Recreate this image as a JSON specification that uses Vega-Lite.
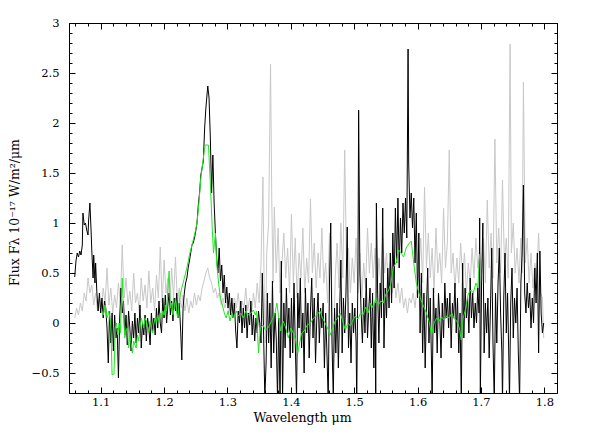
{
"$schema": "https://vega.github.io/schema/vega-lite/v6.json",
"width": 488, "height": 370,
"autosize": "none",
"padding": {"left": 69, "top": 23, "right": 35, "bottom": 50},
"background": "white",
"config": {"view": {"stroke": "black", "strokeWidth": 1},
 "axis": {"labelFont": "DejaVu Serif", "titleFont": "DejaVu Serif", "labelFontSize": 11.5, "titleFontSize": 12.5, "labelColor": "black", "titleColor": "black", "titleFontWeight": "normal", "domainColor": "black", "tickColor": "black", "grid": false, "labelOverlap": false, "labelFlush": false}},
"datasets": {
"gray": [
{"x":1.059,"y":0.05},{"x":1.062,"y":0.15},{"x":1.065,"y":0.08},{"x":1.068,"y":0.20},{"x":1.071,"y":0.12},{"x":1.074,"y":0.30},{"x":1.077,"y":0.22},{"x":1.080,"y":0.45},{"x":1.083,"y":0.30},{"x":1.086,"y":0.38},{"x":1.089,"y":0.18},{"x":1.092,"y":0.30},{"x":1.095,"y":0.12},{"x":1.098,"y":0.25},{"x":1.101,"y":0.15},{"x":1.104,"y":0.35},{"x":1.107,"y":0.20},{"x":1.110,"y":0.55},{"x":1.113,"y":0.18},{"x":1.116,"y":0.35},{"x":1.119,"y":0.10},{"x":1.122,"y":0.28},{"x":1.125,"y":0.15},{"x":1.128,"y":0.40},{"x":1.131,"y":0.20},{"x":1.134,"y":0.78},{"x":1.137,"y":0.25},{"x":1.140,"y":0.45},{"x":1.143,"y":0.18},{"x":1.146,"y":0.32},{"x":1.149,"y":0.12},{"x":1.152,"y":0.50},{"x":1.155,"y":0.20},{"x":1.158,"y":0.30},{"x":1.161,"y":0.10},{"x":1.164,"y":0.45},{"x":1.167,"y":0.22},{"x":1.170,"y":0.38},{"x":1.173,"y":0.15},{"x":1.176,"y":0.52},{"x":1.179,"y":0.20},{"x":1.182,"y":0.35},{"x":1.185,"y":0.12},{"x":1.188,"y":0.48},{"x":1.191,"y":0.25},{"x":1.194,"y":0.76},{"x":1.197,"y":0.20},{"x":1.200,"y":0.63},{"x":1.203,"y":0.30},{"x":1.206,"y":0.45},{"x":1.209,"y":0.18},{"x":1.212,"y":0.55},{"x":1.215,"y":0.25},{"x":1.218,"y":0.66},{"x":1.221,"y":0.20},{"x":1.224,"y":0.35},{"x":1.227,"y":0.15},{"x":1.230,"y":0.28},{"x":1.233,"y":0.12},{"x":1.236,"y":0.25},{"x":1.239,"y":0.10},{"x":1.242,"y":0.22},{"x":1.245,"y":0.15},{"x":1.248,"y":0.30},{"x":1.251,"y":0.18},{"x":1.254,"y":0.28},{"x":1.257,"y":0.22},{"x":1.260,"y":0.35},{"x":1.263,"y":0.42},{"x":1.266,"y":0.50},{"x":1.269,"y":0.55},{"x":1.272,"y":0.45},{"x":1.275,"y":0.40},{"x":1.278,"y":0.30},{"x":1.281,"y":0.35},{"x":1.284,"y":0.25},{"x":1.287,"y":0.30},{"x":1.290,"y":0.18},{"x":1.293,"y":0.25},{"x":1.296,"y":0.15},{"x":1.299,"y":0.22},{"x":1.302,"y":0.10},{"x":1.305,"y":0.20},{"x":1.308,"y":0.12},{"x":1.311,"y":0.25},{"x":1.314,"y":0.15},{"x":1.317,"y":0.30},{"x":1.320,"y":0.10},{"x":1.323,"y":0.22},{"x":1.326,"y":0.15},{"x":1.329,"y":0.35},{"x":1.332,"y":0.12},{"x":1.335,"y":0.25},{"x":1.338,"y":0.08},{"x":1.341,"y":0.30},{"x":1.344,"y":0.15},{"x":1.347,"y":0.40},{"x":1.350,"y":0.20},{"x":1.353,"y":0.60},{"x":1.356,"y":1.46},{"x":1.358,"y":0.30},{"x":1.360,"y":-0.20},{"x":1.362,"y":0.70},{"x":1.365,"y":1.00},{"x":1.368,"y":2.59},{"x":1.370,"y":1.20},{"x":1.372,"y":0.40},{"x":1.374,"y":1.16},{"x":1.377,"y":0.50},{"x":1.380,"y":0.95},{"x":1.383,"y":0.30},{"x":1.386,"y":0.60},{"x":1.389,"y":0.90},{"x":1.392,"y":0.45},{"x":1.395,"y":0.75},{"x":1.398,"y":0.30},{"x":1.401,"y":1.09},{"x":1.404,"y":0.40},{"x":1.407,"y":0.85},{"x":1.410,"y":0.25},{"x":1.413,"y":0.70},{"x":1.416,"y":0.45},{"x":1.419,"y":0.95},{"x":1.422,"y":0.30},{"x":1.425,"y":0.65},{"x":1.428,"y":0.40},{"x":1.431,"y":1.24},{"x":1.434,"y":0.50},{"x":1.437,"y":0.80},{"x":1.440,"y":0.35},{"x":1.443,"y":0.70},{"x":1.446,"y":0.45},{"x":1.449,"y":0.95},{"x":1.452,"y":0.40},{"x":1.455,"y":0.60},{"x":1.458,"y":0.20},{"x":1.461,"y":0.90},{"x":1.464,"y":0.50},{"x":1.467,"y":-0.40},{"x":1.470,"y":0.45},{"x":1.473,"y":0.80},{"x":1.476,"y":0.35},{"x":1.479,"y":1.00},{"x":1.482,"y":0.45},{"x":1.485,"y":1.73},{"x":1.488,"y":0.55},{"x":1.491,"y":0.75},{"x":1.494,"y":0.30},{"x":1.497,"y":0.65},{"x":1.500,"y":0.40},{"x":1.503,"y":0.85},{"x":1.506,"y":0.30},{"x":1.509,"y":0.70},{"x":1.512,"y":0.25},{"x":1.515,"y":0.60},{"x":1.518,"y":0.35},{"x":1.521,"y":0.95},{"x":1.524,"y":0.50},{"x":1.527,"y":0.80},{"x":1.530,"y":0.45},{"x":1.533,"y":0.75},{"x":1.536,"y":0.30},{"x":1.539,"y":0.65},{"x":1.542,"y":0.40},{"x":1.545,"y":0.85},{"x":1.548,"y":0.50},{"x":1.551,"y":0.70},{"x":1.554,"y":0.35},{"x":1.557,"y":0.60},{"x":1.560,"y":0.30},{"x":1.563,"y":0.45},{"x":1.566,"y":0.25},{"x":1.569,"y":0.40},{"x":1.572,"y":0.20},{"x":1.575,"y":0.35},{"x":1.578,"y":0.15},{"x":1.581,"y":0.25},{"x":1.584,"y":0.10},{"x":1.587,"y":0.25},{"x":1.590,"y":0.20},{"x":1.593,"y":0.30},{"x":1.596,"y":0.15},{"x":1.599,"y":0.35},{"x":1.602,"y":0.50},{"x":1.605,"y":0.85},{"x":1.608,"y":0.40},{"x":1.611,"y":1.36},{"x":1.614,"y":0.55},{"x":1.617,"y":0.90},{"x":1.620,"y":0.45},{"x":1.623,"y":0.75},{"x":1.626,"y":0.30},{"x":1.629,"y":0.95},{"x":1.632,"y":0.50},{"x":1.635,"y":0.70},{"x":1.638,"y":0.40},{"x":1.641,"y":1.15},{"x":1.644,"y":0.55},{"x":1.647,"y":0.80},{"x":1.650,"y":1.73},{"x":1.653,"y":0.50},{"x":1.656,"y":0.70},{"x":1.659,"y":0.35},{"x":1.662,"y":0.65},{"x":1.665,"y":0.40},{"x":1.668,"y":0.80},{"x":1.671,"y":0.45},{"x":1.674,"y":0.70},{"x":1.677,"y":0.30},{"x":1.680,"y":0.60},{"x":1.683,"y":0.40},{"x":1.686,"y":0.75},{"x":1.689,"y":0.45},{"x":1.692,"y":0.85},{"x":1.695,"y":0.55},{"x":1.698,"y":0.70},{"x":1.701,"y":0.50},{"x":1.704,"y":0.85},{"x":1.707,"y":0.40},{"x":1.710,"y":1.23},{"x":1.713,"y":0.55},{"x":1.716,"y":0.90},{"x":1.719,"y":0.45},{"x":1.722,"y":1.84},{"x":1.725,"y":0.60},{"x":1.728,"y":0.95},{"x":1.731,"y":0.50},{"x":1.734,"y":1.43},{"x":1.737,"y":0.60},{"x":1.740,"y":0.85},{"x":1.743,"y":0.45},{"x":1.746,"y":2.79},{"x":1.748,"y":0.70},{"x":1.751,"y":1.00},{"x":1.754,"y":0.50},{"x":1.757,"y":0.75},{"x":1.760,"y":0.40},{"x":1.763,"y":0.85},{"x":1.765,"y":0.50},{"x":1.767,"y":2.41},{"x":1.770,"y":0.60},{"x":1.773,"y":0.85},{"x":1.776,"y":0.40},{"x":1.779,"y":0.70},{"x":1.782,"y":0.35},{"x":1.785,"y":0.60},{"x":1.788,"y":0.45},{"x":1.791,"y":0.90},{"x":1.794,"y":0.30},{"x":1.797,"y":0.25},{"x":1.799,"y":-0.15}
],
"black": [
{"x":1.059,"y":0.46},{"x":1.061,"y":0.62},{"x":1.063,"y":0.70},{"x":1.065,"y":0.66},{"x":1.067,"y":0.72},{"x":1.069,"y":0.68},{"x":1.071,"y":0.78},{"x":1.072,"y":1.10},{"x":1.074,"y":0.98},{"x":1.076,"y":1.00},{"x":1.078,"y":0.93},{"x":1.080,"y":0.88},{"x":1.081,"y":1.03},{"x":1.083,"y":1.20},{"x":1.085,"y":0.90},{"x":1.086,"y":0.72},{"x":1.088,"y":0.45},{"x":1.089,"y":0.68},{"x":1.091,"y":0.40},{"x":1.092,"y":0.60},{"x":1.094,"y":0.30},{"x":1.096,"y":0.12},{"x":1.098,"y":0.30},{"x":1.100,"y":0.10},{"x":1.102,"y":0.25},{"x":1.104,"y":0.05},{"x":1.106,"y":0.22},{"x":1.108,"y":0.15},{"x":1.110,"y":-0.05},{"x":1.112,"y":-0.40},{"x":1.114,"y":0.12},{"x":1.116,"y":-0.20},{"x":1.118,"y":0.10},{"x":1.120,"y":-0.28},{"x":1.122,"y":0.08},{"x":1.124,"y":-0.15},{"x":1.126,"y":-0.05},{"x":1.128,"y":-0.55},{"x":1.130,"y":0.05},{"x":1.132,"y":0.35},{"x":1.134,"y":0.10},{"x":1.136,"y":0.22},{"x":1.138,"y":-0.12},{"x":1.140,"y":0.08},{"x":1.142,"y":-0.22},{"x":1.144,"y":0.12},{"x":1.146,"y":-0.05},{"x":1.148,"y":-0.28},{"x":1.150,"y":0.02},{"x":1.152,"y":-0.15},{"x":1.154,"y":0.10},{"x":1.156,"y":-0.20},{"x":1.158,"y":0.05},{"x":1.160,"y":-0.10},{"x":1.162,"y":0.18},{"x":1.164,"y":-0.25},{"x":1.166,"y":0.00},{"x":1.168,"y":-0.12},{"x":1.170,"y":0.08},{"x":1.172,"y":-0.18},{"x":1.174,"y":0.05},{"x":1.176,"y":-0.05},{"x":1.178,"y":-0.22},{"x":1.180,"y":0.10},{"x":1.182,"y":-0.08},{"x":1.184,"y":0.05},{"x":1.186,"y":-0.12},{"x":1.188,"y":0.15},{"x":1.190,"y":-0.05},{"x":1.192,"y":0.22},{"x":1.194,"y":0.00},{"x":1.196,"y":-0.10},{"x":1.198,"y":0.25},{"x":1.200,"y":0.05},{"x":1.202,"y":0.28},{"x":1.204,"y":0.00},{"x":1.206,"y":0.18},{"x":1.208,"y":0.30},{"x":1.210,"y":0.08},{"x":1.212,"y":0.22},{"x":1.214,"y":0.02},{"x":1.216,"y":0.25},{"x":1.218,"y":0.12},{"x":1.220,"y":0.30},{"x":1.222,"y":0.05},{"x":1.224,"y":0.20},{"x":1.226,"y":-0.05},{"x":1.228,"y":-0.37},{"x":1.230,"y":0.15},{"x":1.232,"y":0.30},{"x":1.234,"y":0.40},{"x":1.236,"y":0.45},{"x":1.238,"y":0.55},{"x":1.240,"y":0.62},{"x":1.242,"y":0.70},{"x":1.244,"y":0.78},{"x":1.246,"y":0.80},{"x":1.248,"y":0.85},{"x":1.250,"y":0.92},{"x":1.252,"y":1.00},{"x":1.254,"y":1.18},{"x":1.256,"y":1.30},{"x":1.258,"y":1.48},{"x":1.260,"y":1.55},{"x":1.262,"y":1.62},{"x":1.264,"y":1.95},{"x":1.266,"y":2.15},{"x":1.268,"y":2.30},{"x":1.269,"y":2.37},{"x":1.271,"y":2.25},{"x":1.273,"y":1.85},{"x":1.275,"y":1.30},{"x":1.277,"y":1.68},{"x":1.279,"y":1.20},{"x":1.281,"y":0.90},{"x":1.283,"y":0.65},{"x":1.285,"y":0.50},{"x":1.287,"y":0.75},{"x":1.289,"y":0.42},{"x":1.291,"y":0.58},{"x":1.293,"y":0.30},{"x":1.295,"y":0.48},{"x":1.297,"y":0.20},{"x":1.299,"y":0.36},{"x":1.301,"y":0.15},{"x":1.303,"y":0.30},{"x":1.305,"y":0.08},{"x":1.307,"y":0.25},{"x":1.309,"y":0.05},{"x":1.311,"y":0.20},{"x":1.313,"y":-0.08},{"x":1.315,"y":-0.25},{"x":1.317,"y":0.12},{"x":1.319,"y":0.00},{"x":1.321,"y":0.22},{"x":1.323,"y":-0.10},{"x":1.325,"y":0.15},{"x":1.327,"y":-0.05},{"x":1.329,"y":0.18},{"x":1.331,"y":-0.15},{"x":1.333,"y":0.10},{"x":1.335,"y":-0.02},{"x":1.337,"y":0.22},{"x":1.339,"y":-0.12},{"x":1.341,"y":0.08},{"x":1.343,"y":-0.18},{"x":1.345,"y":0.05},{"x":1.347,"y":-0.10},{"x":1.349,"y":0.12},{"x":1.351,"y":0.00},{"x":1.353,"y":-0.20},{"x":1.355,"y":0.50},{"x":1.357,"y":-0.10},{"x":1.359,"y":-0.75},{"x":1.361,"y":-0.40},{"x":1.363,"y":0.30},{"x":1.365,"y":-0.20},{"x":1.367,"y":0.20},{"x":1.369,"y":-0.45},{"x":1.371,"y":0.42},{"x":1.373,"y":-0.30},{"x":1.375,"y":0.10},{"x":1.377,"y":-0.15},{"x":1.379,"y":-0.75},{"x":1.381,"y":0.05},{"x":1.383,"y":-0.78},{"x":1.385,"y":0.62},{"x":1.387,"y":-0.75},{"x":1.389,"y":0.20},{"x":1.391,"y":-0.25},{"x":1.393,"y":0.35},{"x":1.395,"y":-0.10},{"x":1.397,"y":0.15},{"x":1.399,"y":-0.35},{"x":1.401,"y":0.25},{"x":1.403,"y":-0.30},{"x":1.405,"y":0.40},{"x":1.407,"y":-0.20},{"x":1.409,"y":-0.75},{"x":1.411,"y":0.30},{"x":1.413,"y":-0.05},{"x":1.415,"y":0.45},{"x":1.417,"y":-0.25},{"x":1.419,"y":0.10},{"x":1.421,"y":-0.50},{"x":1.423,"y":0.35},{"x":1.425,"y":-0.10},{"x":1.427,"y":0.20},{"x":1.429,"y":-0.35},{"x":1.431,"y":0.12},{"x":1.433,"y":0.45},{"x":1.435,"y":-0.15},{"x":1.437,"y":0.25},{"x":1.439,"y":-0.40},{"x":1.441,"y":0.05},{"x":1.443,"y":0.30},{"x":1.445,"y":-0.20},{"x":1.447,"y":0.15},{"x":1.449,"y":-0.05},{"x":1.451,"y":0.20},{"x":1.453,"y":-0.45},{"x":1.455,"y":0.10},{"x":1.457,"y":-0.30},{"x":1.459,"y":-0.78},{"x":1.461,"y":0.40},{"x":1.463,"y":1.00},{"x":1.465,"y":-0.20},{"x":1.467,"y":-0.75},{"x":1.469,"y":0.15},{"x":1.471,"y":-0.30},{"x":1.473,"y":0.20},{"x":1.475,"y":-0.45},{"x":1.477,"y":0.10},{"x":1.479,"y":0.63},{"x":1.481,"y":-0.30},{"x":1.483,"y":0.25},{"x":1.485,"y":-0.10},{"x":1.487,"y":0.30},{"x":1.489,"y":0.96},{"x":1.491,"y":-0.25},{"x":1.493,"y":0.10},{"x":1.495,"y":-0.40},{"x":1.497,"y":0.20},{"x":1.499,"y":-0.10},{"x":1.501,"y":0.15},{"x":1.503,"y":-0.20},{"x":1.504,"y":-0.78},{"x":1.506,"y":0.60},{"x":1.507,"y":2.13},{"x":1.509,"y":0.50},{"x":1.511,"y":0.10},{"x":1.513,"y":-0.20},{"x":1.515,"y":0.25},{"x":1.517,"y":-0.10},{"x":1.519,"y":0.45},{"x":1.521,"y":-0.15},{"x":1.523,"y":0.15},{"x":1.525,"y":0.35},{"x":1.527,"y":-0.25},{"x":1.529,"y":0.30},{"x":1.531,"y":-0.45},{"x":1.533,"y":0.20},{"x":1.534,"y":-0.78},{"x":1.535,"y":1.20},{"x":1.537,"y":0.30},{"x":1.539,"y":-0.20},{"x":1.541,"y":0.40},{"x":1.543,"y":0.05},{"x":1.545,"y":1.15},{"x":1.547,"y":-0.25},{"x":1.549,"y":0.35},{"x":1.551,"y":0.05},{"x":1.553,"y":0.55},{"x":1.555,"y":0.15},{"x":1.557,"y":0.70},{"x":1.559,"y":0.20},{"x":1.561,"y":0.90},{"x":1.563,"y":0.35},{"x":1.565,"y":1.15},{"x":1.567,"y":0.60},{"x":1.569,"y":1.25},{"x":1.571,"y":0.55},{"x":1.573,"y":1.05},{"x":1.575,"y":0.70},{"x":1.577,"y":1.20},{"x":1.579,"y":0.90},{"x":1.581,"y":1.25},{"x":1.583,"y":0.85},{"x":1.585,"y":2.74},{"x":1.586,"y":1.60},{"x":1.588,"y":1.05},{"x":1.590,"y":1.30},{"x":1.592,"y":0.95},{"x":1.594,"y":1.25},{"x":1.596,"y":0.60},{"x":1.598,"y":1.10},{"x":1.600,"y":0.25},{"x":1.602,"y":0.90},{"x":1.604,"y":-0.10},{"x":1.606,"y":0.50},{"x":1.608,"y":-0.30},{"x":1.610,"y":0.30},{"x":1.612,"y":-0.45},{"x":1.614,"y":0.15},{"x":1.616,"y":0.55},{"x":1.618,"y":-0.20},{"x":1.620,"y":0.25},{"x":1.622,"y":-0.40},{"x":1.623,"y":-0.78},{"x":1.625,"y":0.35},{"x":1.627,"y":-0.10},{"x":1.629,"y":0.15},{"x":1.631,"y":-0.30},{"x":1.633,"y":0.30},{"x":1.635,"y":0.05},{"x":1.637,"y":-0.35},{"x":1.639,"y":0.20},{"x":1.641,"y":-0.15},{"x":1.643,"y":0.40},{"x":1.645,"y":0.05},{"x":1.647,"y":0.25},{"x":1.649,"y":-0.05},{"x":1.651,"y":0.30},{"x":1.653,"y":-0.25},{"x":1.655,"y":0.20},{"x":1.657,"y":0.05},{"x":1.659,"y":0.40},{"x":1.661,"y":-0.10},{"x":1.663,"y":0.25},{"x":1.665,"y":-0.30},{"x":1.667,"y":0.10},{"x":1.669,"y":-0.78},{"x":1.671,"y":0.60},{"x":1.673,"y":-0.15},{"x":1.675,"y":0.35},{"x":1.677,"y":0.05},{"x":1.679,"y":0.25},{"x":1.681,"y":-0.10},{"x":1.683,"y":0.45},{"x":1.685,"y":0.05},{"x":1.687,"y":0.30},{"x":1.689,"y":-0.05},{"x":1.691,"y":0.20},{"x":1.693,"y":0.00},{"x":1.695,"y":0.35},{"x":1.697,"y":0.10},{"x":1.698,"y":1.05},{"x":1.699,"y":-0.78},{"x":1.701,"y":0.40},{"x":1.703,"y":1.00},{"x":1.705,"y":-0.30},{"x":1.707,"y":0.20},{"x":1.709,"y":-0.10},{"x":1.711,"y":0.25},{"x":1.713,"y":-0.35},{"x":1.715,"y":0.15},{"x":1.717,"y":0.75},{"x":1.719,"y":-0.20},{"x":1.721,"y":-0.78},{"x":1.723,"y":0.30},{"x":1.725,"y":-0.20},{"x":1.727,"y":0.40},{"x":1.729,"y":0.75},{"x":1.731,"y":0.10},{"x":1.733,"y":-0.30},{"x":1.734,"y":-0.78},{"x":1.736,"y":0.25},{"x":1.738,"y":0.70},{"x":1.740,"y":-0.10},{"x":1.742,"y":0.30},{"x":1.744,"y":-0.35},{"x":1.745,"y":-0.78},{"x":1.747,"y":0.20},{"x":1.749,"y":0.55},{"x":1.751,"y":-0.15},{"x":1.753,"y":0.25},{"x":1.755,"y":0.00},{"x":1.757,"y":0.35},{"x":1.759,"y":-0.30},{"x":1.761,"y":-0.78},{"x":1.763,"y":0.40},{"x":1.765,"y":0.70},{"x":1.767,"y":1.38},{"x":1.769,"y":0.30},{"x":1.771,"y":0.10},{"x":1.773,"y":0.40},{"x":1.775,"y":0.15},{"x":1.777,"y":0.30},{"x":1.779,"y":-0.05},{"x":1.781,"y":0.25},{"x":1.783,"y":0.00},{"x":1.785,"y":0.55},{"x":1.787,"y":0.20},{"x":1.789,"y":0.70},{"x":1.791,"y":-0.30},{"x":1.793,"y":0.72},{"x":1.795,"y":0.10},{"x":1.797,"y":-0.10},{"x":1.799,"y":0.00}
],
"green": [
{"x":1.101,"y":0.13},{"x":1.104,"y":0.08},{"x":1.107,"y":0.18},{"x":1.110,"y":0.05},{"x":1.113,"y":0.12},{"x":1.116,"y":-0.02},{"x":1.118,"y":-0.52},{"x":1.121,"y":-0.51},{"x":1.123,"y":-0.05},{"x":1.125,"y":0.00},{"x":1.127,"y":-0.12},{"x":1.129,"y":0.00},{"x":1.131,"y":-0.10},{"x":1.134,"y":0.45},{"x":1.136,"y":0.10},{"x":1.138,"y":-0.15},{"x":1.140,"y":-0.08},{"x":1.142,"y":-0.05},{"x":1.144,"y":-0.25},{"x":1.146,"y":-0.12},{"x":1.148,"y":-0.20},{"x":1.150,"y":-0.30},{"x":1.152,"y":-0.18},{"x":1.154,"y":-0.22},{"x":1.156,"y":-0.25},{"x":1.158,"y":-0.12},{"x":1.160,"y":-0.18},{"x":1.162,"y":-0.05},{"x":1.164,"y":0.05},{"x":1.166,"y":0.00},{"x":1.168,"y":-0.05},{"x":1.170,"y":0.05},{"x":1.172,"y":0.02},{"x":1.174,"y":-0.05},{"x":1.176,"y":-0.08},{"x":1.178,"y":0.02},{"x":1.180,"y":-0.05},{"x":1.182,"y":-0.10},{"x":1.184,"y":0.00},{"x":1.186,"y":0.05},{"x":1.188,"y":0.00},{"x":1.190,"y":0.08},{"x":1.192,"y":0.02},{"x":1.194,"y":0.10},{"x":1.196,"y":0.05},{"x":1.198,"y":0.12},{"x":1.200,"y":0.08},{"x":1.202,"y":0.18},{"x":1.204,"y":0.12},{"x":1.206,"y":0.35},{"x":1.208,"y":0.52},{"x":1.210,"y":0.15},{"x":1.212,"y":0.20},{"x":1.214,"y":0.08},{"x":1.216,"y":0.15},{"x":1.218,"y":0.25},{"x":1.220,"y":0.10},{"x":1.222,"y":0.05},{"x":1.224,"y":0.22},{"x":1.226,"y":0.30},{"x":1.228,"y":0.35},{"x":1.232,"y":0.45},{"x":1.236,"y":0.55},{"x":1.240,"y":0.68},{"x":1.244,"y":0.78},{"x":1.248,"y":0.88},{"x":1.252,"y":1.00},{"x":1.255,"y":1.20},{"x":1.258,"y":1.45},{"x":1.260,"y":1.55},{"x":1.263,"y":1.70},{"x":1.265,"y":1.78},{"x":1.270,"y":1.78},{"x":1.273,"y":1.40},{"x":1.276,"y":0.95},{"x":1.278,"y":0.70},{"x":1.281,"y":0.90},{"x":1.283,"y":0.60},{"x":1.286,"y":0.40},{"x":1.289,"y":0.25},{"x":1.292,"y":0.18},{"x":1.295,"y":0.10},{"x":1.298,"y":0.05},{"x":1.301,"y":0.12},{"x":1.304,"y":0.02},{"x":1.307,"y":0.10},{"x":1.310,"y":0.05},{"x":1.314,"y":0.12},{"x":1.317,"y":0.07},{"x":1.321,"y":0.10},{"x":1.325,"y":0.05},{"x":1.329,"y":0.12},{"x":1.333,"y":0.08},{"x":1.337,"y":0.10},{"x":1.341,"y":0.13},{"x":1.344,"y":0.08},{"x":1.346,"y":0.12},{"x":1.349,"y":-0.30},{"x":1.352,"y":-0.05},{"x":1.356,"y":-0.02},{"x":1.360,"y":-0.07},{"x":1.364,"y":-0.05},{"x":1.368,"y":0.00},{"x":1.372,"y":0.05},{"x":1.375,"y":0.10},{"x":1.378,"y":0.20},{"x":1.381,"y":0.05},{"x":1.384,"y":-0.08},{"x":1.388,"y":0.02},{"x":1.392,"y":-0.05},{"x":1.396,"y":-0.15},{"x":1.400,"y":-0.05},{"x":1.404,"y":-0.10},{"x":1.408,"y":-0.18},{"x":1.411,"y":-0.30},{"x":1.414,"y":-0.20},{"x":1.417,"y":-0.10},{"x":1.421,"y":-0.08},{"x":1.426,"y":-0.02},{"x":1.431,"y":0.00},{"x":1.436,"y":0.05},{"x":1.441,"y":0.08},{"x":1.446,"y":0.12},{"x":1.450,"y":0.05},{"x":1.454,"y":0.00},{"x":1.458,"y":-0.05},{"x":1.462,"y":-0.12},{"x":1.466,"y":-0.05},{"x":1.470,"y":0.02},{"x":1.474,"y":0.05},{"x":1.478,"y":0.10},{"x":1.482,"y":0.02},{"x":1.486,"y":-0.07},{"x":1.490,"y":0.00},{"x":1.494,"y":-0.03},{"x":1.498,"y":0.03},{"x":1.502,"y":0.07},{"x":1.506,"y":0.04},{"x":1.510,"y":0.10},{"x":1.514,"y":0.08},{"x":1.518,"y":0.16},{"x":1.522,"y":0.10},{"x":1.526,"y":0.20},{"x":1.530,"y":0.15},{"x":1.534,"y":0.25},{"x":1.538,"y":0.18},{"x":1.542,"y":0.22},{"x":1.546,"y":0.20},{"x":1.550,"y":0.29},{"x":1.554,"y":0.32},{"x":1.558,"y":0.40},{"x":1.562,"y":0.56},{"x":1.566,"y":0.60},{"x":1.570,"y":0.73},{"x":1.574,"y":0.70},{"x":1.578,"y":0.66},{"x":1.582,"y":0.75},{"x":1.586,"y":0.79},{"x":1.590,"y":0.82},{"x":1.594,"y":0.60},{"x":1.598,"y":0.40},{"x":1.602,"y":0.30},{"x":1.606,"y":0.22},{"x":1.610,"y":0.16},{"x":1.614,"y":0.10},{"x":1.618,"y":0.02},{"x":1.622,"y":-0.12},{"x":1.626,"y":0.00},{"x":1.630,"y":0.05},{"x":1.634,"y":0.02},{"x":1.638,"y":0.06},{"x":1.642,"y":0.03},{"x":1.646,"y":0.07},{"x":1.650,"y":0.05},{"x":1.654,"y":0.10},{"x":1.658,"y":0.04},{"x":1.662,"y":0.02},{"x":1.666,"y":-0.05},{"x":1.669,"y":-0.17},{"x":1.672,"y":0.05},{"x":1.676,"y":0.15},{"x":1.680,"y":0.29},{"x":1.684,"y":0.33},{"x":1.688,"y":0.30},{"x":1.692,"y":0.40},{"x":1.695,"y":0.35},{"x":1.698,"y":0.69}
]
},
"layer": [
{"data": {"name": "gray"},
 "mark": {"type": "line", "color": "#c8c8c8", "strokeWidth": 1, "clip": true},
 "encoding": {
  "x": {"field": "x", "type": "quantitative", "scale": {"domain": [1.05, 1.82], "nice": false, "zero": false},
   "axis": {"orient": "bottom", "title": "Wavelength μm", "titleX": 233, "titleY": 28, "titleBaseline": "alphabetic", "titleAlign": "center",
    "values": [1.06,1.08,1.1,1.12,1.14,1.16,1.18,1.2,1.22,1.24,1.26,1.28,1.3,1.32,1.34,1.36,1.38,1.4,1.42,1.44,1.46,1.48,1.5,1.52,1.54,1.56,1.58,1.6,1.62,1.64,1.66,1.68,1.7,1.72,1.74,1.76,1.78,1.8],
    "labelExpr": "abs(datum.value*10 - round(datum.value*10)) < 0.001 ? format(datum.value, '.1f') : ''",
    "tickSize": {"condition": {"test": "abs(datum.value*10 - round(datum.value*10)) < 0.001", "value": -6}, "value": -3},
    "labelPadding": 9}},
  "y": {"field": "y", "type": "quantitative", "scale": {"domain": [-0.7, 3], "nice": false, "zero": false},
   "axis": {"orient": "left", "title": "Flux Fλ 10⁻¹⁷ W/m²/μm", "titleX": -51, "titleY": 189, "titleAlign": "center", "titleAngle": -90, "titleBaseline": "alphabetic",
    "values": [-0.6,-0.5,-0.4,-0.3,-0.2,-0.1,0,0.1,0.2,0.3,0.4,0.5,0.6,0.7,0.8,0.9,1,1.1,1.2,1.3,1.4,1.5,1.6,1.7,1.8,1.9,2,2.1,2.2,2.3,2.4,2.5,2.6,2.7,2.8,2.9,3],
    "labelExpr": "abs(datum.value*2 - round(datum.value*2)) < 0.001 ? format(datum.value, '~g') : ''",
    "tickSize": {"condition": {"test": "abs(datum.value*2 - round(datum.value*2)) < 0.001", "value": -6}, "value": -3},
    "labelPadding": 16}}
 }},
{"data": {"name": "black"},
 "mark": {"type": "line", "color": "black", "strokeWidth": 1, "clip": true},
 "encoding": {
  "x": {"field": "x", "type": "quantitative",
   "axis": {"orient": "top", "title": null, "labels": false,
    "values": [1.06,1.08,1.1,1.12,1.14,1.16,1.18,1.2,1.22,1.24,1.26,1.28,1.3,1.32,1.34,1.36,1.38,1.4,1.42,1.44,1.46,1.48,1.5,1.52,1.54,1.56,1.58,1.6,1.62,1.64,1.66,1.68,1.7,1.72,1.74,1.76,1.78,1.8],
    "tickSize": {"condition": {"test": "abs(datum.value*10 - round(datum.value*10)) < 0.001", "value": -6}, "value": -3}}},
  "y": {"field": "y", "type": "quantitative",
   "axis": {"orient": "right", "title": null, "labels": false,
    "values": [-0.6,-0.5,-0.4,-0.3,-0.2,-0.1,0,0.1,0.2,0.3,0.4,0.5,0.6,0.7,0.8,0.9,1,1.1,1.2,1.3,1.4,1.5,1.6,1.7,1.8,1.9,2,2.1,2.2,2.3,2.4,2.5,2.6,2.7,2.8,2.9,3],
    "tickSize": {"condition": {"test": "abs(datum.value*2 - round(datum.value*2)) < 0.001", "value": -6}, "value": -3}}}
 }},
{"data": {"name": "green"},
 "mark": {"type": "line", "color": "#22e622", "strokeWidth": 1, "clip": true},
 "encoding": {
  "x": {"field": "x", "type": "quantitative", "axis": null},
  "y": {"field": "y", "type": "quantitative", "axis": null}
 }}
],
"resolve": {"axis": {"x": "independent", "y": "independent"}}
}
